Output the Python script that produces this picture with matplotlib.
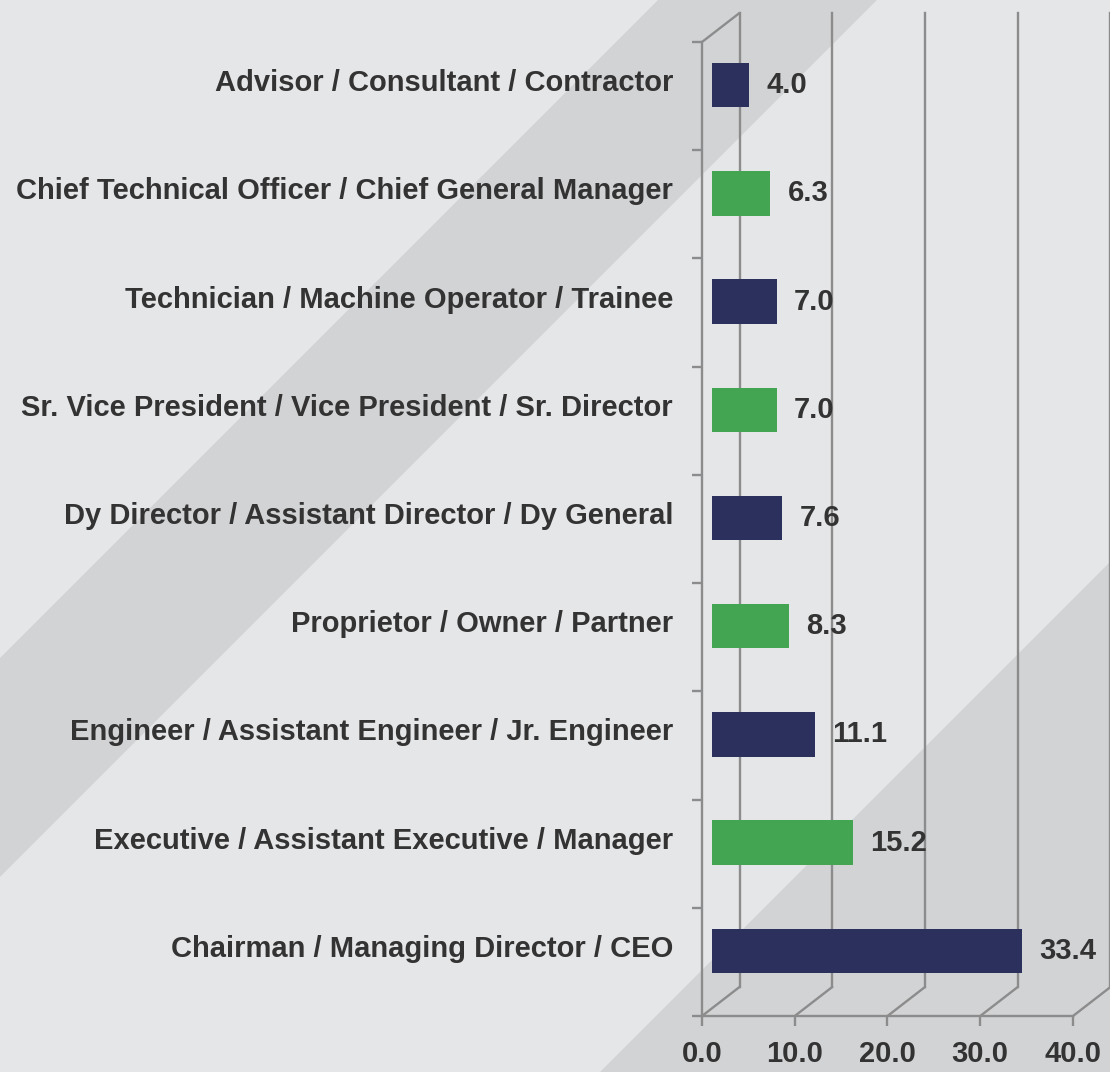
import matplotlib
matplotlib.use("Agg")
import numpy as np
import matplotlib.pyplot as plt
from matplotlib.patches import Polygon
from matplotlib.transforms import ScaledTranslation

# data, top row first
roles = ["Advisor / Consultant / Contractor",
         "Chief Technical Officer / Chief General Manager",
         "Technician / Machine Operator / Trainee",
         "Sr. Vice President / Vice President / Sr. Director",
         "Dy Director / Assistant Director / Dy General",
         "Proprietor / Owner / Partner",
         "Engineer / Assistant Engineer / Jr. Engineer",
         "Executive / Assistant Executive / Manager",
         "Chairman / Managing Director / CEO"]
shares = [4.0, 6.3, 7.0, 7.0, 7.6, 8.3, 11.1, 15.2, 33.4]
x_ticks = [0, 10, 20, 30, 40]

navy = "#2c305c"
green = "#43a552"
bg = "#e5e6e8"
stripe = "#d2d3d5"
grid = "#8c8c8c"
ink = "#333333"
lw = 1.7

W, H, DPI = 1110, 1072, 100
fig = plt.figure(figsize=(W / DPI, H / DPI), dpi=DPI, facecolor=bg)
plt.rcParams['font.family'] = ['Liberation Sans', 'DejaVu Sans']


def img_poly(pts):
    # image pixel coords (y down) -> figure fraction
    return [(x / W, 1 - y / H) for x, y in pts]

# diagonal background bands
fig.patches.append(Polygon(img_poly([(658, 0), (877, 0), (0, 877), (0, 658)]),
                           closed=True, facecolor=stripe, edgecolor='none',
                           transform=fig.transFigure, zorder=-5))
fig.patches.append(Polygon(img_poly([(1110, 562), (1110, 1072), (600, 1072)]),
                           closed=True, facecolor=stripe, edgecolor='none',
                           transform=fig.transFigure, zorder=-5))

ax = fig.add_axes([702 / W, 56 / H, 371 / W, 974 / H])
ax.set_zorder(1)
ax.set_facecolor('none')
ax.set_xlim(0, 40)
n = len(roles)
ax.set_ylim(-0.5, n - 0.5)
ax.invert_yaxis()


def px(dx, dy):
    return ScaledTranslation(dx / DPI, dy / DPI, fig.dpi_scale_trans)

back = ax.transData + px(37.5, 29)
ylo, yhi = n - 0.5, -0.5

# back wall verticals and floor diagonals
for t in x_ticks:
    ax.plot([t, t], [ylo, yhi], color=grid, lw=lw, transform=back,
            clip_on=False, zorder=1)
    ax.annotate('', xy=(t, ylo), xycoords='data', xytext=(37.5 * 0.72, 29 * 0.72),
                textcoords='offset points',
                arrowprops=dict(arrowstyle='-', color=grid, lw=lw,
                                shrinkA=0, shrinkB=0), zorder=1)
# top-left edge
ax.annotate('', xy=(0, yhi), xycoords='data', xytext=(37.5 * 0.72, 29 * 0.72),
            textcoords='offset points',
            arrowprops=dict(arrowstyle='-', color=grid, lw=lw,
                            shrinkA=0, shrinkB=0), zorder=1)

y = np.arange(n)
colors = [navy if i % 2 == 0 else green for i in range(n)]
bar_tr = ax.transData + px(10, 11)
ax.barh(y, shares, height=0.41, color=colors, transform=bar_tr, zorder=3)

for i, v in enumerate(shares):
    ax.text(v, i, f"{v:.1f}", transform=ax.transData + px(27, 11),
            ha='left', va='center', fontsize=21, fontweight='bold',
            color=ink, zorder=4)
    ax.text(0, i, roles[i], transform=ax.transData + px(-29, 13),
            ha='right', va='center', fontsize=21, fontweight='bold',
            color=ink, zorder=4)

for s in ['top', 'right']:
    ax.spines[s].set_visible(False)
for s in ['left', 'bottom']:
    ax.spines[s].set_color(grid)
    ax.spines[s].set_linewidth(lw)
    ax.spines[s].set_zorder(2)

ax.set_xticks(x_ticks)
ax.set_xticklabels([f"{t:.1f}" for t in x_ticks])
ax.tick_params(axis='x', length=7.2, width=lw, color=grid, pad=10,
               labelsize=21, labelcolor=ink)
for lab in ax.get_xticklabels():
    lab.set_fontweight('bold')
ax.set_yticks([])
ax.set_yticks(np.arange(-0.5, n), minor=True)
ax.tick_params(axis='y', which='minor', length=7.2, width=lw, color=grid)

fig.savefig("out.png", dpi=DPI, facecolor=bg)
